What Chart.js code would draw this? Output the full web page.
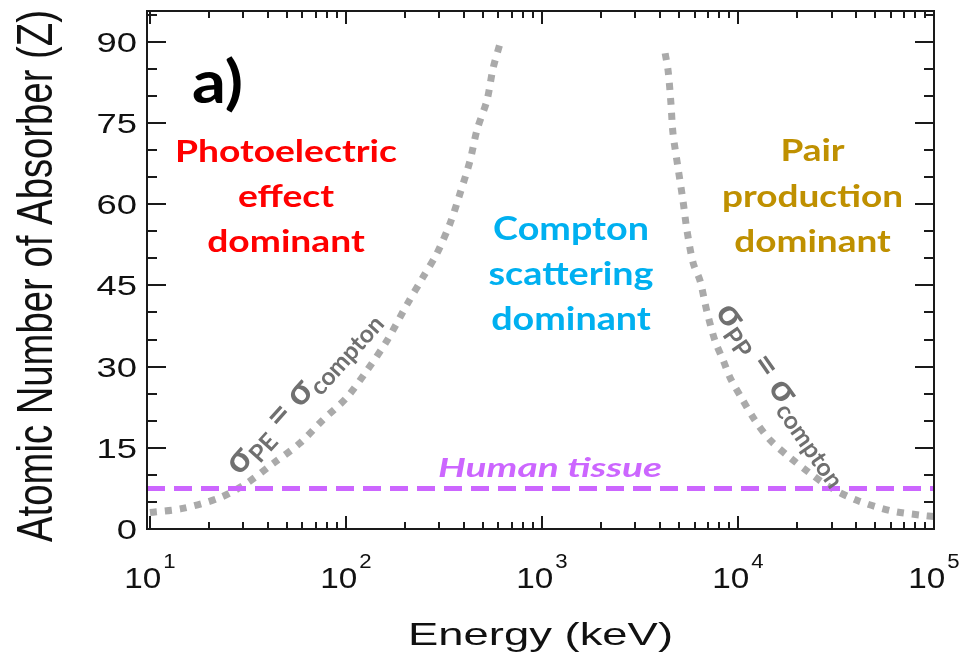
<!DOCTYPE html>
<html><head><meta charset="utf-8">
<script src="https://cdn.jsdelivr.net/npm/chart.js@4/dist/chart.umd.min.js"></script>
<style>html,body{margin:0;padding:0;background:#fff;}#wrap{width:970px;height:656px;}</style>
</head><body>
<div id="wrap"><canvas id="c" width="970" height="656"></canvas></div>
<script>
// ---- data ----
const peEnergy = [10, 14.7, 22.8, 31, 42.5, 58, 76, 101, 128, 162, 205, 247, 291, 340, 382, 430, 466, 524, 563, 611];
const peZ      = [3.05, 3.8, 5.8, 8.4, 12.1, 15.8, 20.1, 24.3, 29.3, 34.8, 41.5, 46.5, 50.9, 56.5, 62, 68.1, 73.7, 79.2, 85.1, 89.7];
const ppEnergy = [4250, 4400, 4550, 4660, 4940, 5240, 5490, 5910, 6400, 6920, 7630, 8420, 9100, 10500, 12200, 14600, 18400, 23300, 29500, 40400, 59700, 88000, 100000];
const ppZ      = [87.9, 84.7, 78.6, 73.1, 66.8, 60.7, 55.2, 49.1, 45.9, 40.4, 34.8, 31.1, 28, 24, 20.1, 16.4, 13.2, 10.3, 7.7, 5.3, 3.4, 2.5, 2.3];
const tissueEnergy = [9.66, 100000];
const tissueZ      = [7.5, 7.5];
const xTickValues    = [10, 100, 1000, 10000, 100000];
const xTickExponents = ['1', '2', '3', '4', '5'];
const yTickValues = [0, 15, 30, 45, 60, 75, 90];
const yTickLabels = ['0', '15', '30', '45', '60', '75', '90'];
const xRange = [9.66, 100000];
const yRange = [0, 95.7];
const xTitle = 'Energy (keV)';
const yTitle = 'Atomic Number of Absorber (Z)';
const peLines = ['Photoelectric', 'effect', 'dominant'];
const comptonLines = ['Compton', 'scattering', 'dominant'];
const pairLines = ['Pair', 'production', 'dominant'];
const tissueLabel = 'Human tissue';
const panelLabel = 'a)';

// ---- helpers ----
function txt(ctx, s, x, y, font, color, align, sx, sy, rot) {
  ctx.save();
  ctx.translate(x, y);
  if (rot) ctx.rotate(rot);
  ctx.scale(sx || 1, sy || 1);
  ctx.font = font; ctx.fillStyle = color;
  ctx.textAlign = align || 'left'; ctx.textBaseline = 'alphabetic';
  ctx.fillText(s, 0, 0);
  ctx.restore();
}
function measure(ctx, s, font) { ctx.save(); ctx.font = font; const w = ctx.measureText(s).width; ctx.restore(); return w; }
function block(ctx, lines, cx, baselines, font, color, widest) {
  const maxW = Math.max(...lines.map(l => measure(ctx, l, font)));
  const sx = widest / maxW;
  lines.forEach((l, i) => txt(ctx, l, cx, baselines[i], font, color, 'center', sx, 1));
}
function sigmaLabel(ctx, cx, cy, deg, sub, len) {
  const big = 'bold 36px Lato, "Open Sans", sans-serif';
  const small = 'bold 24px Lato, "Open Sans", sans-serif';
  const parts = [['σ', big, 0], [sub, small, 7], [' = ', big, 0], ['σ', big, 0], ['compton', small, 7]];
  let total = 0;
  parts.forEach(p => { p.w = measure(ctx, p[0], p[1]); total += p.w; });
  const s = len / total;
  ctx.save();
  ctx.translate(cx, cy); ctx.rotate(deg * Math.PI / 180); ctx.scale(s, s);
  ctx.fillStyle = '#707070'; ctx.textBaseline = 'alphabetic'; ctx.textAlign = 'left';
  let x = -total / 2;
  parts.forEach(p => { ctx.font = p[1]; ctx.fillText(p[0], x, 9 + p[2]); x += p.w; });
  ctx.restore();
}

const overlay = {
  id: 'overlay',
  afterDatasetsDraw(chart) {
    const { ctx, chartArea: a, scales: { x, y } } = chart;
    const SANS = '"Liberation Sans", Arial, sans-serif';
    const CAL = 'Lato, "Open Sans", sans-serif';
    ctx.save();
    // frame
    ctx.strokeStyle = '#1a1a1a'; ctx.lineWidth = 2;
    ctx.strokeRect(a.left, a.top, a.right - a.left, a.bottom - a.top);
    // y ticks (major every 15, minor every 5)
    ctx.lineWidth = 2;
    for (let v = yRange[0]; v <= yRange[1]; v += 5) {
      const py = Math.round(y.getPixelForValue(v));
      const len = yTickValues.includes(v) ? 19 : 10;
      ctx.beginPath();
      ctx.moveTo(a.left, py); ctx.lineTo(a.left + len, py);
      ctx.moveTo(a.right, py); ctx.lineTo(a.right - len, py);
      ctx.stroke();
    }
    // x ticks (log)
    xTickValues.forEach((dec, i) => {
      for (let m = 1; m <= 9; m++) {
        const v = dec * m;
        if (v > xRange[1] || v < xRange[0]) continue;
        const px = Math.round(x.getPixelForValue(v));
        const len = m === 1 ? 13 : 7;
        ctx.beginPath();
        ctx.moveTo(px, a.bottom); ctx.lineTo(px, a.bottom - len);
        ctx.moveTo(px, a.top); ctx.lineTo(px, a.top + len);
        ctx.stroke();
      }
    });
    // y tick labels
    yTickValues.forEach((v, i) => {
      const py = y.getPixelForValue(v);
      txt(ctx, yTickLabels[i], 137, py + 10, '28px ' + SANS, '#111', 'right', 1.3, 1);
    });
    // x tick labels 10^n
    xTickValues.forEach((v, i) => {
      const px = x.getPixelForValue(v);
      const sx = 1.11;
      const wb = measure(ctx, '10', '30px ' + SANS) * sx;
      const ws = measure(ctx, xTickExponents[i], '20px ' + SANS) * sx;
      const left = px - (wb + 2 + ws) / 2;
      txt(ctx, '10', left, 588, '30px ' + SANS, '#111', 'left', sx, 1);
      txt(ctx, xTickExponents[i], left + wb + 2, 568, '20px ' + SANS, '#111', 'left', sx, 1);
    });
    // axis titles
    const xf = '32px ' + SANS;
    txt(ctx, xTitle, 540.5, 645, xf, '#111', 'center', 265 / measure(ctx, xTitle, xf), 1);
    const yf = '38px ' + SANS;
    txt(ctx, yTitle, 52, 276, yf, '#111', 'center', 532 / measure(ctx, yTitle, yf), 1.29, -Math.PI / 2);
    // panel label
    const af = 'bold 60px ' + CAL;
    txt(ctx, panelLabel, 192, 103, af, '#000', 'left', 51 / measure(ctx, panelLabel, af), 1);
    // region labels
    block(ctx, peLines, 286, [161.7, 206.7, 251.7], 'bold 30px ' + CAL, '#ff0000', 222);
    block(ctx, comptonLines, 571, [240, 285, 330], 'bold 32px ' + CAL, '#00b0f0', 165);
    block(ctx, pairLines, 812.5, [160.5, 206.7, 251.7], 'bold 30px ' + CAL, '#bf9000', 181);
    const tf = 'italic bold 26px ' + CAL;
    txt(ctx, tissueLabel, 550, 476.7, tf, '#cc66ff', 'center', 224 / measure(ctx, tissueLabel, tf), 1);
    // curve labels
    sigmaLabel(ctx, 303, 392, -48, 'PE', 210);
    sigmaLabel(ctx, 783, 394, 55, 'PP', 212);
    ctx.restore();
  }
};

const toXY = (xs, ys) => xs.map((e, i) => ({ x: e, y: ys[i] }));

new Chart(document.getElementById('c'), {
  type: 'scatter',
  data: {
    datasets: [
      { label: 'Human tissue', data: toXY(tissueEnergy, tissueZ), showLine: true,
        borderColor: '#cc66ff', borderWidth: 5, borderDash: [18, 9], borderCapStyle: 'butt', pointRadius: 0 },
      { label: 'σPE = σcompton', data: toXY(peEnergy, peZ), showLine: true,
        borderColor: '#aaaaaa', borderWidth: 7, borderDash: [7, 8], borderCapStyle: 'butt', pointRadius: 0, tension: 0.3 },
      { label: 'σPP = σcompton', data: toXY(ppEnergy, ppZ), showLine: true,
        borderColor: '#aaaaaa', borderWidth: 7, borderDash: [7, 8], borderCapStyle: 'butt', pointRadius: 0, tension: 0.3 }
    ]
  },
  options: {
    responsive: false, animation: false, devicePixelRatio: 1,
    layout: { padding: { left: 0, right: 36, top: 11, bottom: 0 } },
    plugins: { legend: { display: false }, tooltip: { enabled: false } },
    scales: {
      x: { type: 'logarithmic', min: xRange[0], max: xRange[1], grid: { display: false }, border: { display: false },
           ticks: { display: false }, afterFit(s) { s.height = 127; } },
      y: { type: 'linear', min: yRange[0], max: yRange[1], grid: { display: false }, border: { display: false },
           ticks: { display: false }, afterFit(s) { s.width = 147; } }
    }
  },
  plugins: [overlay]
});
</script>
</body></html>
